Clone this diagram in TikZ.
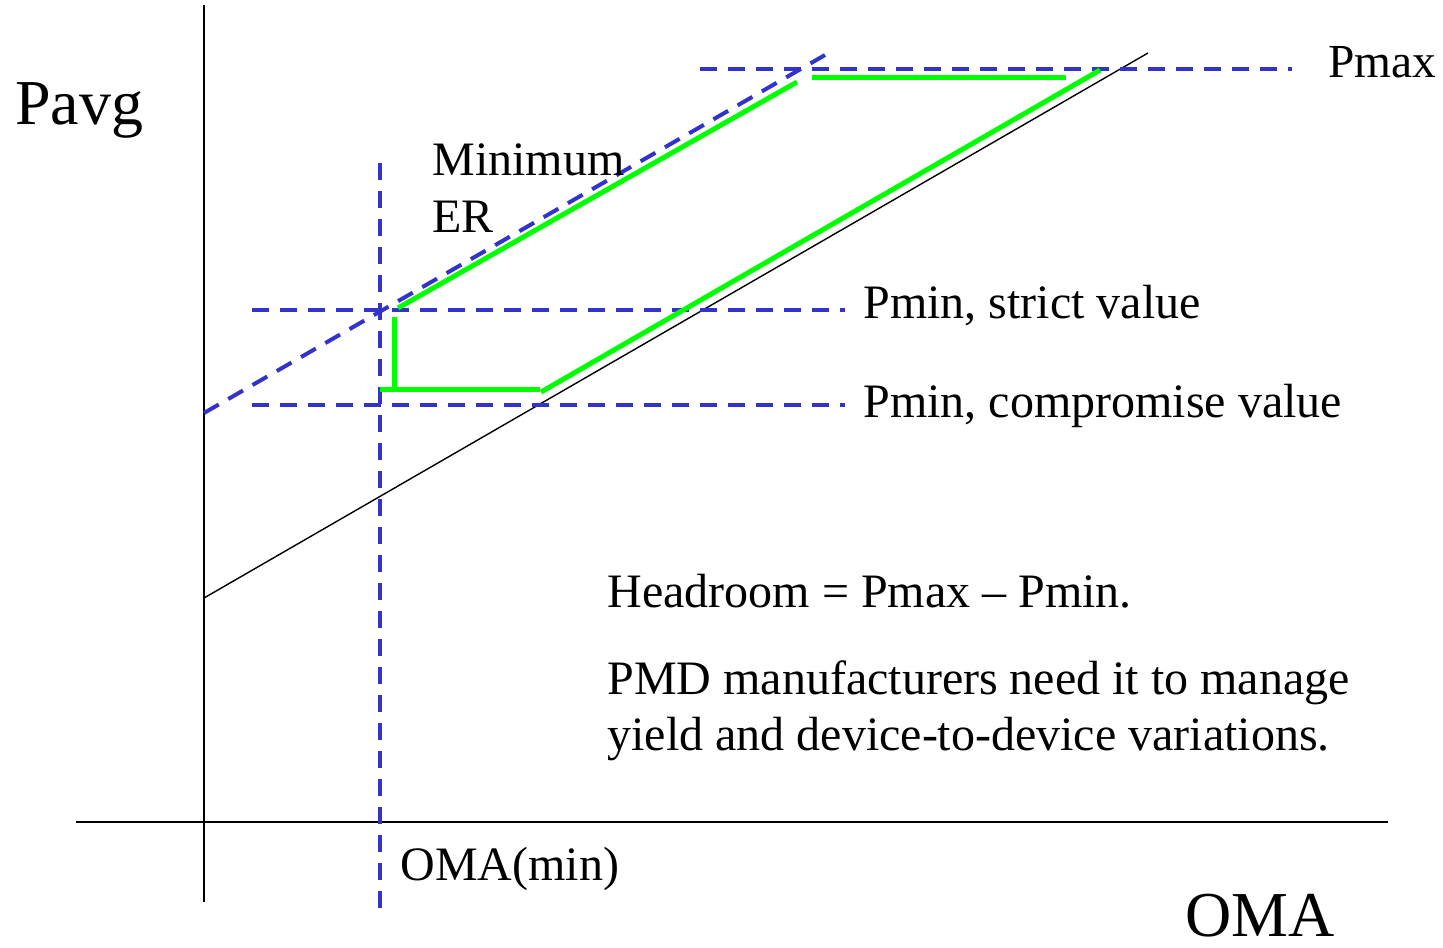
\documentclass[tikz,border=0pt]{standalone}
\usepackage{fontspec}
\setmainfont{Liberation Serif}
\usetikzlibrary{positioning}
\definecolor{LimBlue}{HTML}{3333CC}
\definecolor{LimGreen}{HTML}{00FF00}
\tikzset{
  axisline/.style={line width=1pt,draw=black},
  slopeline/.style={line width=0.7pt,draw=black},
  limitline/.style={line width=2pt,draw=LimBlue,dash pattern=on 8.5pt off 5.5pt},
  oppath/.style={line width=2.5pt,draw=LimGreen},
  biglabel/.style={anchor=base west,inner sep=0pt,font=\fontsize{32}{38}\selectfont},
  txtlabel/.style={anchor=base west,inner sep=0pt,font=\fontsize{24}{28}\selectfont}
}
\begin{document}
\begin{tikzpicture}[x=0.5pt,y=-0.5pt]
\useasboundingbox (0,0) rectangle (1443,947);
% axes
\draw[axisline] (204,5) -- (204,902);
\draw[axisline] (76,822) -- (1388,822);
% transmitter line and minimum ER limit
\draw[slopeline] (204,598) -- (1148,53);
\draw[limitline] (204,413) -- (825,55);
% limits
\draw[limitline] (380,163) -- (380,910);
\draw[limitline] (252,310) -- (845,310);
\draw[limitline] (252,405) -- (845,405);
\draw[limitline] (700,69) -- (1292,69);
% allowed region
\draw[oppath] (398,308) -- (797,82);
\draw[oppath] (812,78) -- (1066,78);
\draw[oppath] (394,317) -- (394,389);
\draw[oppath] (380,389) -- (540,389);
\draw[oppath] (541,392) -- (1100,70);
% labels
\node[biglabel] (pavg) at (15,125) {Pavg};
\node[biglabel] (oma) at (1185,936) {OMA};
\node[txtlabel,font=\fontsize{23.7}{28}\selectfont] (pmax) at (1328,78) {Pmax};
\node[txtlabel] (minim) at (432,175) {Minimum};
\node[txtlabel] (er) at (432,232) {ER};
\node[txtlabel] (strict) at (863,318) {Pmin, strict value};
\node[txtlabel] (compr) at (863,417) {Pmin, compromise value};
\node[txtlabel] (omamin) at (400,880) {OMA(min)};
\node[txtlabel] (head) at (607,607) {Headroom = Pmax -- Pmin.};
\node[txtlabel] (pmd1) at (607,694) {PMD manufacturers need it to manage};
\node[txtlabel] (pmd2) at (607,750) {yield and device-to-device variations.};
\end{tikzpicture}
\end{document}
